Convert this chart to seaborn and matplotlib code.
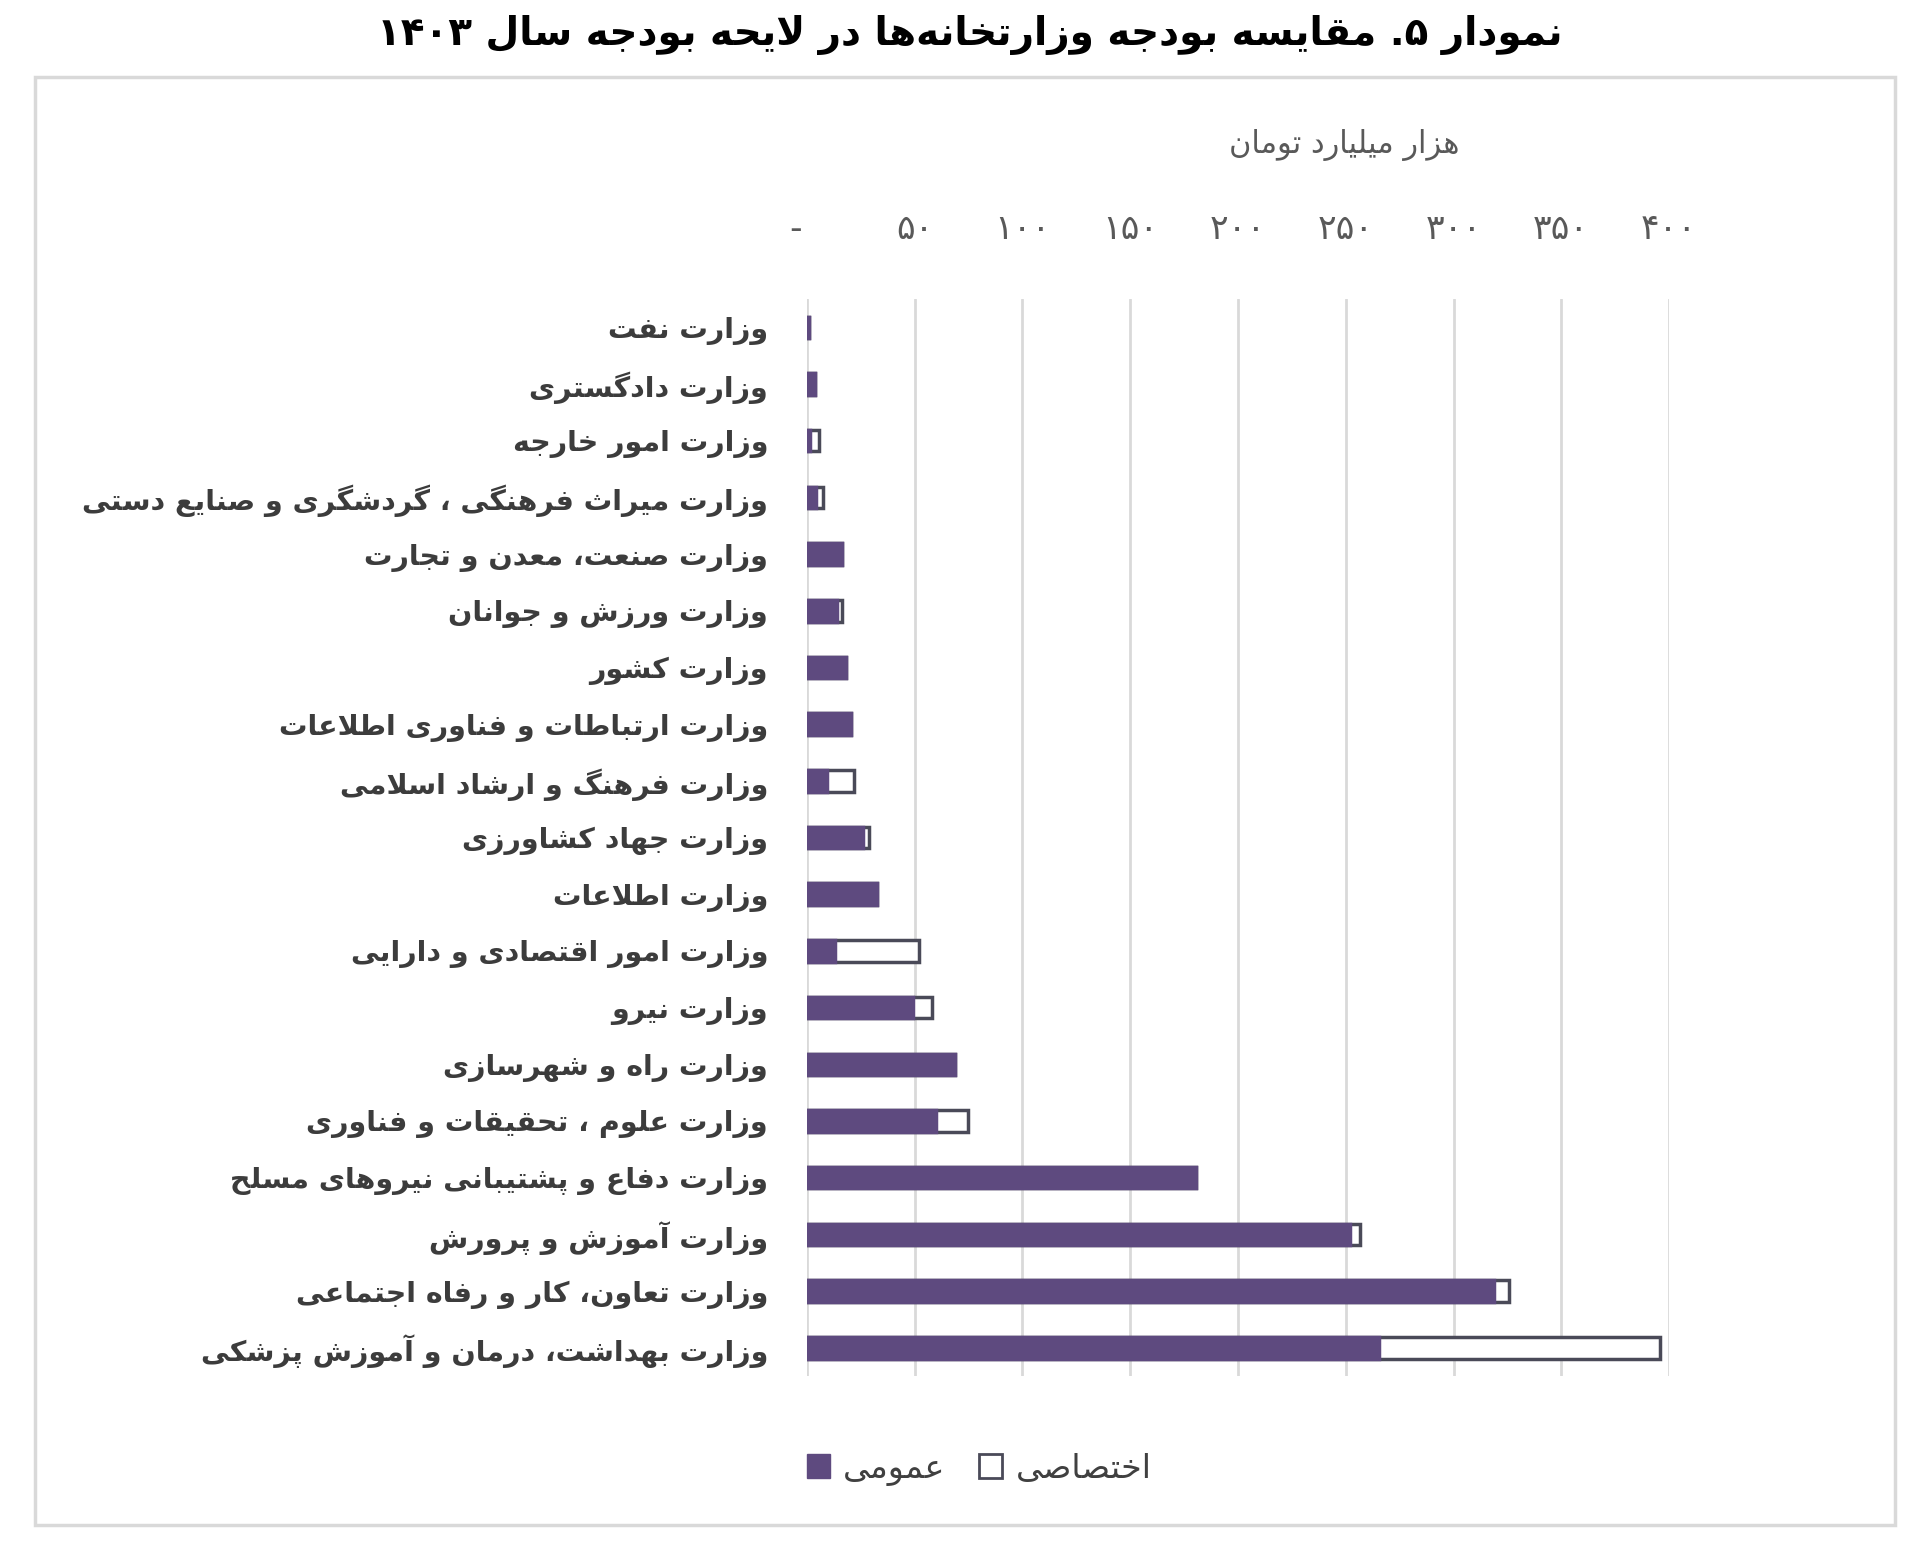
import re
import numpy as np
import matplotlib.pyplot as plt
import pandas as pd
import seaborn as sns
from matplotlib.patches import Patch, Rectangle


# data (thousand billion toman)
ministries = [
    'وزارت نفت',
    'وزارت دادگستری',
    'وزارت امور خارجه',
    'وزارت میراث فرهنگی ، گردشگری و صنایع دستی',
    'وزارت صنعت، معدن و تجارت',
    'وزارت ورزش و جوانان',
    'وزارت کشور',
    'وزارت ارتباطات و فناوری اطلاعات',
    'وزارت فرهنگ و ارشاد اسلامی',
    'وزارت جهاد کشاورزی',
    'وزارت اطلاعات',
    'وزارت امور اقتصادی و دارایی',
    'وزارت نیرو',
    'وزارت راه و شهرسازی',
    'وزارت علوم ، تحقیقات و فناوری',
    'وزارت دفاع و پشتیبانی نیروهای مسلح',
    'وزارت آموزش و پرورش',
    'وزارت تعاون، کار و رفاه اجتماعی',
    'وزارت بهداشت، درمان و آموزش پزشکی',
]
general = [0.8, 3.8, 1.3, 4.4, 16.4, 14.1, 18.0, 20.6, 9.4, 25.8, 32.3,
           12.8, 49.3, 68.6, 59.7, 180.6, 251.9, 318.8, 265.6]
special = [0.2, 0.0, 4.5, 3.1, 0.0, 2.3, 0.0, 0.0, 12.2, 3.1, 0.0,
           39.0, 8.6, 0.0, 15.2, 0.0, 4.8, 6.8, 130.1]
ticks = [0, 50, 100, 150, 200, 250, 300, 350, 400]

title = 'نمودار ۵. مقایسه بودجه وزارتخانه\u200cها در لایحه بودجه سال ۱۴۰۳'
unit_label = 'هزار میلیارد تومان'
legend_labels = ['عمومی', 'اختصاصی']


# small Persian shaper: matplotlib has no text shaping, so use presentation forms
FORMS = {
    'ء': (0xFE80, 1), 'آ': (0xFE81, 2), 'أ': (0xFE83, 2), 'ؤ': (0xFE85, 2),
    'إ': (0xFE87, 2), 'ئ': (0xFE89, 4), 'ا': (0xFE8D, 2), 'ب': (0xFE8F, 4),
    'ة': (0xFE93, 2), 'ت': (0xFE95, 4), 'ث': (0xFE99, 4), 'ج': (0xFE9D, 4),
    'ح': (0xFEA1, 4), 'خ': (0xFEA5, 4), 'د': (0xFEA9, 2), 'ذ': (0xFEAB, 2),
    'ر': (0xFEAD, 2), 'ز': (0xFEAF, 2), 'س': (0xFEB1, 4), 'ش': (0xFEB5, 4),
    'ص': (0xFEB9, 4), 'ض': (0xFEBD, 4), 'ط': (0xFEC1, 4), 'ظ': (0xFEC5, 4),
    'ع': (0xFEC9, 4), 'غ': (0xFECD, 4), 'ف': (0xFED1, 4), 'ق': (0xFED5, 4),
    'ل': (0xFEDD, 4), 'م': (0xFEE1, 4), 'ن': (0xFEE5, 4), 'ه': (0xFEE9, 4),
    'و': (0xFEED, 2), 'پ': (0xFB56, 4), 'چ': (0xFB7A, 4), 'ژ': (0xFB8A, 2),
    'ک': (0xFB8E, 4), 'گ': (0xFB92, 4), 'ی': (0xFBFC, 4),
}
LAM_ALEF = {'ا': 0xFEFB, 'آ': 0xFEF5, 'أ': 0xFEF7, 'إ': 0xFEF9}


def fa(text):
    text = text.replace('\u064a', '\u06cc').replace('\u0643', '\u06a9')
    chars = list(text)
    n = len(chars)
    out = []
    dual = lambda c: c in FORMS and FORMS[c][1] == 4
    joins = lambda c: c in FORMS and c != 'ء'
    i = 0
    while i < n:
        c = chars[i]
        if c not in FORMS:
            if c != '\u200c':
                out.append(c)
            i += 1
            continue
        link_prev = i > 0 and dual(chars[i - 1])
        if c == 'ل' and i + 1 < n and chars[i + 1] in LAM_ALEF:
            out.append(chr(LAM_ALEF[chars[i + 1]] + (1 if link_prev else 0)))
            i += 2
            continue
        link_next = dual(c) and i + 1 < n and joins(chars[i + 1])
        start, k = FORMS[c]
        if k == 1:
            form = 0
        elif k == 2:
            form = 1 if link_prev else 0
        else:
            form = {(False, False): 0, (True, False): 1,
                    (False, True): 2, (True, True): 3}[(link_prev, link_next)]
        out.append(chr(start + form))
        i += 1
    visual = ''.join(out)[::-1]
    return re.sub(r'[0-9۰-۹]+', lambda m: m.group(0)[::-1], visual)


def fa_digits(v):
    return str(v).translate(str.maketrans('0123456789', '۰۱۲۳۴۵۶۷۸۹'))


df = pd.DataFrame({
    'ministry': [fa(m) for m in ministries],
    'general': general,
    'total': np.array(general) + np.array(special),
})

purple = '#5e4a7f'
edge = '#4a4a58'

sns.set_style('white')
plt.rcParams['font.family'] = ['DejaVu Sans']

fig = plt.figure(figsize=(19.2, 15.41), dpi=100)
ax = fig.add_axes([0.4203, 0.107, 0.449, 0.699])

order = list(df['ministry'])
sns.barplot(data=df, x='total', y='ministry', order=order, orient='h',
            color='white', edgecolor=edge, linewidth=2.5, width=0.38,
            saturation=1, ax=ax)
sns.barplot(data=df, x='general', y='ministry', order=order, orient='h',
            color=purple, edgecolor=purple, linewidth=2.5, width=0.38,
            saturation=1, ax=ax)

ax.set_xlim(0, 400)
ax.set_ylim(18.5, -0.5)
ax.xaxis.tick_top()
ax.set_xticks(ticks)
# leading space pushes the zero dash a little left, as in the source
ax.set_xticklabels(['-  '] + [fa_digits(t) for t in ticks[1:]])
ax.tick_params(axis='x', length=0, pad=38, labelsize=25, labelcolor='#595959')
ax.tick_params(axis='y', length=0, pad=28, labelsize=20.5, labelcolor='#3c3c3c')
for lab in ax.get_yticklabels():
    lab.set_fontweight('bold')
ax.set_xlabel('')
ax.set_ylabel('')
ax.grid(axis='x', color='#d9d9d9', linewidth=2)
ax.grid(axis='y', visible=False)
ax.set_axisbelow(True)
sns.despine(ax=ax, left=True, bottom=True, top=True, right=True)

fig.text(0.700, 0.906, fa(unit_label), ha='center', va='center',
         fontsize=22, color='#595959')
fig.text(0.505, 0.977, fa(title), ha='center', va='center',
         fontsize=28, fontweight='bold', color='black')

handles = [Patch(facecolor=purple, edgecolor=purple),
           Patch(facecolor='white', edgecolor=edge, linewidth=2)]
fig.legend(handles, [fa(t) for t in legend_labels], loc='center',
           bbox_to_anchor=(0.510, 0.047), ncol=2, frameon=False,
           fontsize=24, handlelength=0.7, handleheight=0.7,
           handletextpad=0.4, columnspacing=1.0, labelcolor='#404040')

fig.patches.append(Rectangle((0.018, 0.0104), 0.969, 0.9397,
                             transform=fig.transFigure, fill=False,
                             edgecolor='#d9d9d9', linewidth=2.5))

plt.savefig('out.png', dpi=100)
